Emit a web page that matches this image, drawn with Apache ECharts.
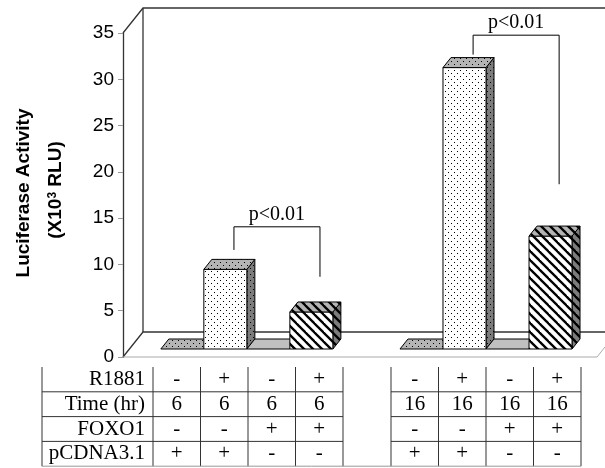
<!DOCTYPE html>
<html lang="en" style="height: 100%">
<head>
  <meta charset="utf-8">
</head>
<body style="height: 100%; margin: 0">
  <div id="container" style="width: 605px; height: 468px"></div>

  <script type="text/javascript" src="https://fastly.jsdelivr.net/npm/echarts@6.0.0/dist/echarts.min.js"></script>

  <script type="text/javascript">

    // luciferase activity (x10^3 RLU), one value per table column
    var values6hr = [0, 8.6, 0, 4.0];
    var values16hr = [0, 30.4, 0, 12.2];
    var yMin = 0, yMax = 35, yStep = 5;

    // table under the chart
    var rowLabels = ['R1881', 'Time (hr)', 'FOXO1', 'pCDNA3.1'];
    var r1881Row = ['-', '+', '-', '+', '-', '+', '-', '+'];
    var timeRow = ['6', '6', '6', '6', '16', '16', '16', '16'];
    var foxo1Row = ['-', '-', '+', '+', '-', '-', '+', '+'];
    var pcdnaRow = ['+', '+', '-', '-', '+', '+', '-', '-'];

    // significance brackets: from bar, to bar, top, left end, right end (y units)
    var brackets = [
      [1, 3, 13.2, 10.7, 7.8],
      [5, 7, 33.9, 31.8, 17.8]
    ];
    var bracketLabels = ['p<0.01', 'p<0.01'];

    //////////////////////////////////////////////////////////////////

    var groupStart = [0, 5.56];   // slot where each time group starts
    var xMin = -1.24, xMax = 9.78;
    var wallShift = [20, -25];    // depth of the 3d box
    var barShift = [6, -8];       // bars sit in the middle of the floor
    var barDepth = [8, -10];

    function makePattern(bg, draw, size) {
      var c = document.createElement('canvas');
      c.width = size[0];
      c.height = size[1];
      var ctx = c.getContext('2d');
      ctx.fillStyle = bg;
      ctx.fillRect(0, 0, size[0], size[1]);
      draw(ctx);
      return { image: c, repeat: 'repeat' };
    }
    function dots(ctx) {
      ctx.fillStyle = '#000';
      ctx.fillRect(1, 1, 1, 1);
      ctx.fillRect(4, 4, 1, 1);
    }
    function hatch(ctx) {
      ctx.strokeStyle = '#000';
      ctx.lineWidth = 2.3;
      [[-2, -2, 11, 11], [7, -2, 20, 11], [-11, -2, 2, 11]].forEach(function (l) {
        ctx.beginPath();
        ctx.moveTo(l[0], l[1]);
        ctx.lineTo(l[2], l[3]);
        ctx.stroke();
      });
    }

    var dotted = {
      front: makePattern('#ffffff', dots, [6, 6]),
      top: makePattern('#b4b4b4', dots, [6, 6]),
      side: makePattern('#7c7c7c', dots, [6, 6])
    };
    var plain = { front: '#c0c0c0', top: '#c0c0c0', side: '#808080' };
    var hatched = {
      front: makePattern('#ffffff', hatch, [9, 9]),
      top: makePattern('#b4b4b4', hatch, [9, 9]),
      side: makePattern('#7c7c7c', hatch, [9, 9])
    };
    var condStyles = [dotted, dotted, plain, hatched];

    // bar data: [slot position, value, condition]
    var barData = [];
    [values6hr, values16hr].forEach(function (vals, g) {
      vals.forEach(function (v, i) {
        barData.push([groupStart[g] + i, v, i]);
      });
    });

    function barPos(idx) {
      return barData[idx][0];
    }

    var dom = document.getElementById('container');
    var myChart = echarts.init(dom, null, { renderer: 'canvas' });

    function renderFrame(params, api) {
      var lb = api.coord([xMin, yMin]);
      var lt = api.coord([xMin, yMax]);
      var rb = api.coord([xMax, yMin]);
      var back = function (p) { return [p[0] + wallShift[0], p[1] + wallShift[1]]; };
      var dark = { stroke: '#333', lineWidth: 1.3, fill: null };
      var light = { stroke: '#aaa', lineWidth: 1, fill: null };
      return {
        type: 'group',
        children: [
          { type: 'polyline', shape: { points: [lt, back(lt), [back(rb)[0], back(lt)[1]]] }, style: dark },
          { type: 'polyline', shape: { points: [lb, back(lb), back(rb)] }, style: dark },
          { type: 'line', shape: { x1: back(lb)[0], y1: back(lb)[1], x2: back(lt)[0], y2: back(lt)[1] }, style: dark },
          { type: 'polyline', shape: { points: [lb, rb, back(rb)] }, style: light }
        ]
      };
    }

    function renderBar(params, api) {
      var pos = api.value(0), val = api.value(1), st = condStyles[api.value(2)];
      var half = api.size([1, 0])[0] / 2;
      var base = api.coord([pos, 0]);
      var top = api.coord([pos, val]);
      var x0 = base[0] - half + barShift[0], x1 = base[0] + half + barShift[0];
      var yb = base[1] + barShift[1], yt = top[1] + barShift[1];
      var dx = barDepth[0], dy = barDepth[1];
      var edge = { stroke: '#000', lineWidth: 1 };
      var children = [];
      if (yb - yt > 0.5) {
        children.push({
          type: 'polygon',
          shape: { points: [[x1, yt], [x1 + dx, yt + dy], [x1 + dx, yb + dy], [x1, yb]] },
          style: Object.assign({ fill: st.side }, edge)
        });
        children.push({
          type: 'rect',
          shape: { x: x0, y: yt, width: x1 - x0, height: yb - yt },
          style: Object.assign({ fill: st.front }, edge)
        });
      }
      children.push({
        type: 'polygon',
        shape: { points: [[x0, yt], [x1, yt], [x1 + dx, yt + dy], [x0 + dx, yt + dy]] },
        style: Object.assign({ fill: st.top }, edge)
      });
      return { type: 'group', children: children };
    }

    function renderBracket(params, api) {
      var a = barPos(api.value(0)) + 0.2, b = barPos(api.value(1)) + 0.2;
      var pTop = api.value(2), pl = api.value(3), pr = api.value(4);
      var sh = function (p) { return [p[0] + barShift[0], p[1] + barShift[1]]; };
      var p1 = sh(api.coord([a, pl])), p2 = sh(api.coord([a, pTop]));
      var p3 = sh(api.coord([b, pTop])), p4 = sh(api.coord([b, pr]));
      return {
        type: 'group',
        children: [
          { type: 'polyline', shape: { points: [p1, p2, p3, p4] }, style: { stroke: '#000', lineWidth: 1, fill: null } },
          {
            type: 'text',
            style: {
              text: bracketLabels[params.dataIndex],
              x: (p2[0] + p3[0]) / 2, y: p2[1] - 2,
              align: 'center', verticalAlign: 'bottom',
              font: '20px "Liberation Serif"', fill: '#000'
            }
          }
        ]
      };
    }

    // table drawn as graphic elements
    var tableRows = [r1881Row, timeRow, foxo1Row, pcdnaRow];
    var tblLeft = 42, labelRight = 153, colW = 47.5, gapW = 48;
    var tblTop = 367, rowH = 24.8;
    var colX = [];
    for (var i = 0; i < 8; i++) {
      colX.push(labelRight + i * colW + (i >= 4 ? gapW : 0));
    }
    var tblRight = colX[7] + colW;
    var tblBottom = tblTop + rowH * 4;
    var tableEls = [];
    var lineSt = { stroke: '#333', lineWidth: 1 };
    [tblLeft, labelRight].concat(colX.slice(1, 4), [colX[3] + colW], colX.slice(4), [tblRight]).forEach(function (x) {
      tableEls.push({ type: 'line', shape: { x1: x, y1: tblTop, x2: x, y2: tblBottom }, style: lineSt });
    });
    for (var r = 1; r < 4; r++) {
      var y = tblTop + r * rowH;
      tableEls.push({ type: 'line', shape: { x1: tblLeft, y1: y, x2: colX[3] + colW, y2: y }, style: lineSt });
      tableEls.push({ type: 'line', shape: { x1: colX[4], y1: y, x2: tblRight, y2: y }, style: lineSt });
    }
    tableEls.push({ type: 'line', shape: { x1: tblLeft, y1: tblBottom, x2: tblRight, y2: tblBottom }, style: { stroke: '#999', lineWidth: 1 } });
    rowLabels.forEach(function (lab, r) {
      var cy = tblTop + (r + 0.5) * rowH;
      tableEls.push({
        type: 'text',
        style: { text: lab, x: labelRight - 8, y: cy, align: 'right', verticalAlign: 'middle', textAlign: 'right', textVerticalAlign: 'middle', font: '21px "Liberation Serif"', fill: '#000' }
      });
      tableRows[r].forEach(function (t, c) {
        tableEls.push({
          type: 'text',
          style: { text: t, x: colX[c] + colW / 2, y: cy, align: 'center', verticalAlign: 'middle', textAlign: 'center', textVerticalAlign: 'middle', font: '21px "Liberation Serif"', fill: '#000' }
        });
      });
    });

    var option = {
      animation: false,
      backgroundColor: '#fff',
      grid: { left: 123, right: 8, top: 33, bottom: 111 },
      xAxis: { type: 'value', min: xMin, max: xMax, show: false },
      yAxis: {
        type: 'value', min: yMin, max: yMax, interval: yStep,
        splitLine: { show: false },
        axisLine: { show: true, onZero: false, lineStyle: { color: '#333', width: 1.3 } },
        axisTick: { show: true, length: 5, lineStyle: { color: '#999' } },
        axisLabel: { margin: 9, color: '#000', fontSize: 19, fontFamily: 'Liberation Sans' }
      },
      graphic: [
        {
          type: 'text', x: 24, y: 193, rotation: Math.PI / 2,
          style: { text: 'Luciferase Activity', align: 'center', verticalAlign: 'middle', textAlign: 'center', textVerticalAlign: 'middle', font: 'bold 19px "Liberation Sans"', fill: '#000' }
        },
        {
          type: 'text', x: 56, y: 190, rotation: Math.PI / 2,
          style: {
            text: '{a|(X10}{s|3}{a| RLU)}',
            align: 'center', verticalAlign: 'middle', textAlign: 'center', textVerticalAlign: 'middle',
            rich: {
              a: { fontSize: 19, fontWeight: 'bold', fontFamily: 'Liberation Sans', color: '#000' },
              s: { fontSize: 12, fontWeight: 'bold', fontFamily: 'Liberation Sans', color: '#000', verticalAlign: 'top' }
            }
          }
        }
      ].concat(tableEls),
      series: [
        { type: 'custom', coordinateSystem: 'cartesian2d', clip: false, z: 1, renderItem: renderFrame, data: [[0, 0]] },
        { type: 'custom', coordinateSystem: 'cartesian2d', clip: false, z: 2, renderItem: renderBar, data: barData },
        { type: 'custom', coordinateSystem: 'cartesian2d', clip: false, z: 3, renderItem: renderBracket, data: brackets }
      ]
    };

    myChart.setOption(option);
    window.addEventListener('resize', myChart.resize);
  </script>
</body>
</html>
